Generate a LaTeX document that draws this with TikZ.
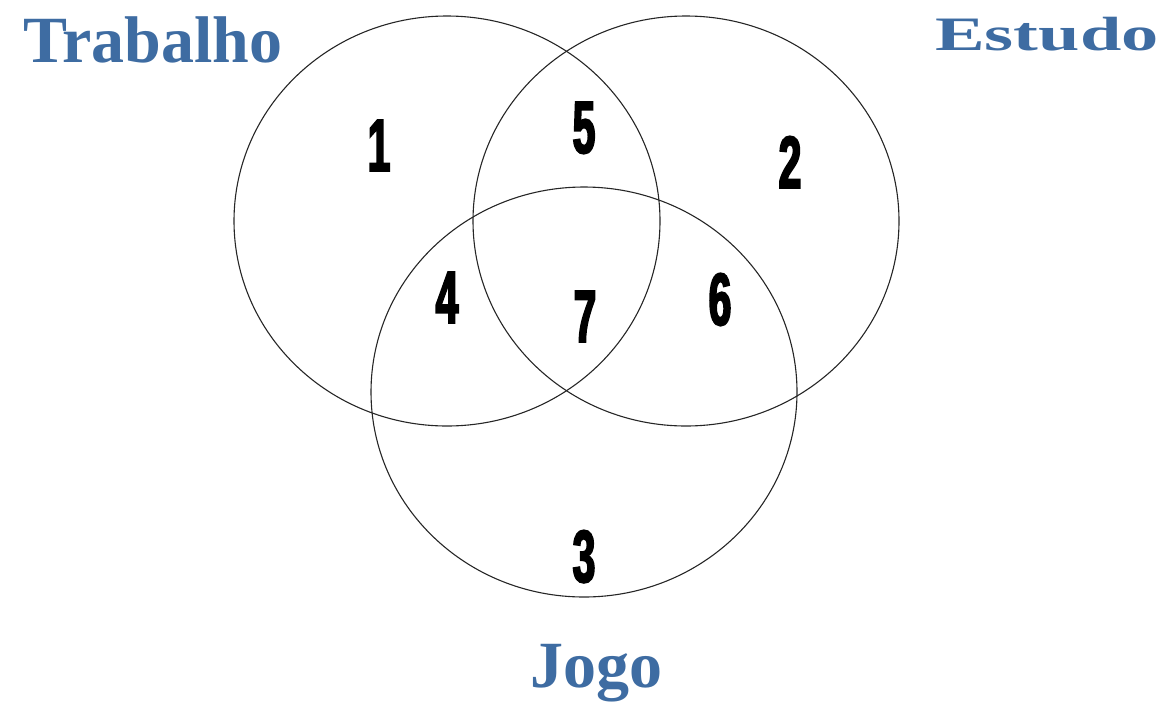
\documentclass[tikz,border=0pt]{standalone}
\usepackage{fontspec}
\usepackage{tikz}
\usetikzlibrary{positioning}
\setmainfont{Liberation Serif}
\newfontfamily\numfont[FakeStretch=0.55, BoldFeatures={FakeBold=2.5}]{Liberation Sans}
\definecolor{titleblue}{RGB}{62,108,162}

\begin{document}
\begin{tikzpicture}[
  x=1pt, y=-1pt,
  set/.style    = {draw=black!85, line width=1.1pt},
  setname/.style = {anchor=base, text=titleblue, inner sep=0pt,
                   font=\bfseries\fontsize{66}{70}\selectfont},
  region/.style = {anchor=base, inner sep=0pt,
                   font=\numfont\bfseries\fontsize{74}{78}\selectfont}
]
\useasboundingbox (0,0) rectangle (1167,702);

% centres of the three sets
\coordinate (trab) at (447,221);
\coordinate (estu) at (686,221);
\coordinate (jogo) at (584,392);

\draw[set] (trab) ellipse [x radius=213, y radius=205];
\draw[set] (estu) ellipse [x radius=213, y radius=205];
\draw[set] (jogo) ellipse [x radius=213, y radius=205];

% names
\node[setname] (Ltrab) at (153,62)  {Trabalho};
\node[setname, font=\bfseries\fontsize{48}{52}\selectfont, xscale=1.55, transform shape]
      (Lestu) at (1047,50) {Estudo};
\node[setname] (Ljogo) at (596,687) {Jogo};

% regions
\node[region] (r1) at (379,171) {1};
\node[region] (r2) at (790,188) {2};
\node[region] (r3) at (584,582) {3};
\node[region] (r4) at (447,323) {4};
\node[region] (r5) at (584,153) {5};
\node[region] (r6) at (720,325) {6};
\node[region] (r7) at (585,342) {7};

\end{tikzpicture}
\end{document}
